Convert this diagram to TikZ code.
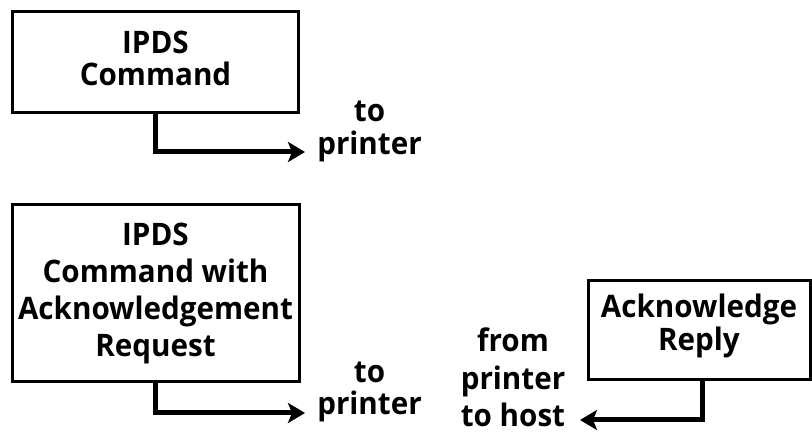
\documentclass[tikz,border=0pt]{standalone}
\usepackage{fontspec}
\setmainfont{Open Sans}[BoldFont={Open Sans Bold}, BoldFeatures={FakeStretch=0.955}]
\usetikzlibrary{arrows.meta}
\newcommand{\txt}[1]{\bfseries\fontsize{31}{#1}\selectfont}
\begin{document}
\begin{tikzpicture}[x=1pt,y=1pt,
  every node/.style={align=center, inner sep=0pt},
  cmdbox/.style={draw, line width=3pt},
  flow/.style={line width=5pt, -{Stealth[length=17pt,width=20pt,inset=4pt]}}]
\useasboundingbox (0,0) rectangle (812,434);
% command boxes
\node[cmdbox, font=\txt{32}, text depth=9pt, minimum width=286pt, minimum height=101pt] (cmd) at (155.5,371.5) {IPDS\\Command};
\node[cmdbox, font=\txt{37}, minimum width=287pt, minimum height=177pt] (ack) at (155.5,140.5) {IPDS\\Command with\\Acknowledgement\\Request};
\node[cmdbox, font=\txt{33}, text depth=17pt, minimum width=222pt, minimum height=99pt] (rep) at (699,103.5) {Acknowledge\\Reply};
% labels
\node[font=\txt{33}, anchor=base] (lbl1) at (369.5,279) {to\\printer};
\node[font=\txt{32}, anchor=base] (lbl2) at (369.5,19) {to\\printer};
\node[font=\txt{37.5}, anchor=base] (lbl3) at (513,7) {from\\printer\\to host};
% arrow ends
\coordinate (e1) at (305,282);
\coordinate (e2) at (305,21);
\coordinate (e3) at (580,14);
% connectors
\draw[flow] (cmd.south -| 155,0) |- (e1);
\draw[flow] (ack.south -| 155,0) |- (e2);
\draw[flow] (rep.south -| 702,0) |- (e3);
\end{tikzpicture}
\end{document}
